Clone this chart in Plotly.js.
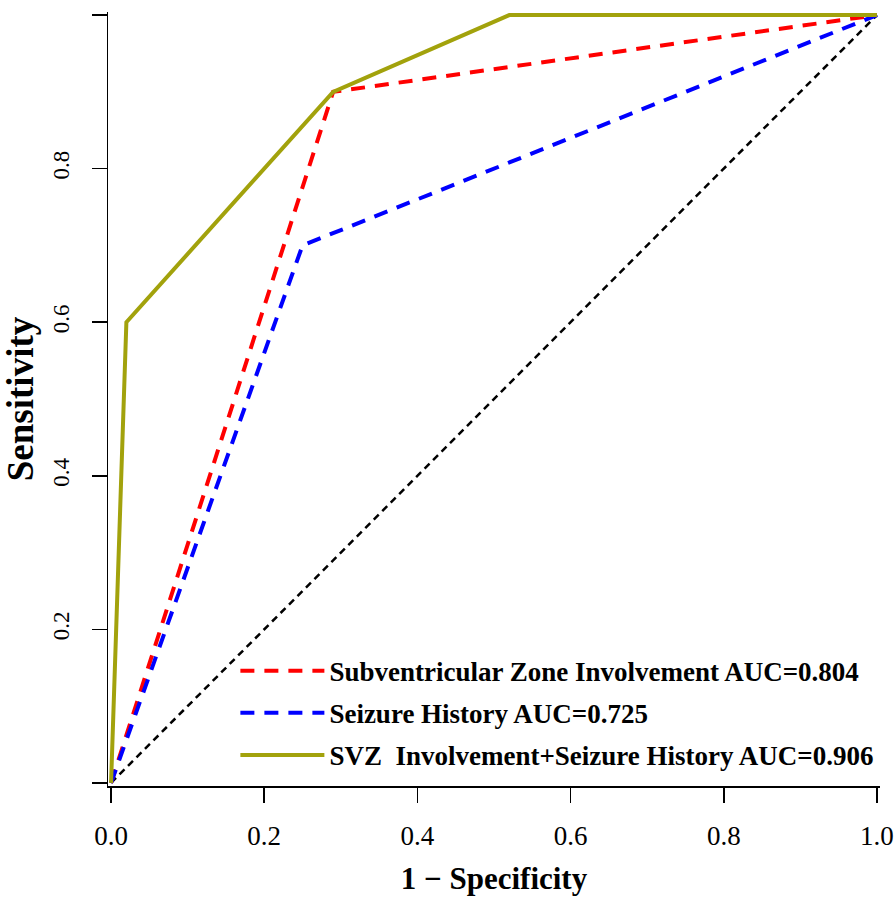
<!DOCTYPE html>
<html>
<head>
<meta charset="utf-8">
<script src="https://cdn.plot.ly/plotly-3.0.1.min.js"></script>
<style>html,body{margin:0;padding:0;background:#fff;}#plot{width:894px;height:898px;}</style>
</head>
<body>
<div id="plot"></div>
<script>
// ROC curve data (1 - specificity, sensitivity)
const svzFpr = [0, 0.29, 1];
const svzTpr = [0, 0.90, 1];
const seizureFpr = [0, 0.25, 1];
const seizureTpr = [0, 0.70, 1];
const combFpr = [0, 0.02, 0.29, 0.52, 1];
const combTpr = [0, 0.60, 0.90, 1.00, 1];
const refLine = [0, 1];

const seriesNames = [
  "Subventricular Zone Involvement AUC=0.804",
  "Seizure History AUC=0.725",
  "SVZ  Involvement+Seizure History AUC=0.906"
];
const tickVals = [0, 0.2, 0.4, 0.6, 0.8, 1.0];
const xTickText = ["0.0", "0.2", "0.4", "0.6", "0.8", "1.0"];
const yTickText = ["", "0.2", "0.4", "0.6", "0.8", "1.0"];

const serif = "Liberation Serif, Times New Roman, serif";

const traces = [
  {x: refLine, y: refLine, mode: "lines", showlegend: false, hoverinfo: "skip",
   line: {color: "#000000", width: 2.5, dash: "7px,5px"}},
  {x: svzFpr, y: svzTpr, mode: "lines", name: seriesNames[0], legendgroup: "a",
   line: {color: "#FF0000", width: 4, dash: "14px,10px"}},
  {x: seizureFpr, y: seizureTpr, mode: "lines", name: seriesNames[1], legendgroup: "b",
   line: {color: "#0000FF", width: 4, dash: "14px,10px"}},
  {x: combFpr, y: combTpr, mode: "lines", name: seriesNames[2], legendgroup: "c",
   line: {color: "#A2A20C", width: 4}}
];

const axisCommon = {
  range: [-0.004, 1.004],
  showgrid: false, zeroline: false,
  showline: true, linecolor: "#000", linewidth: 1.5,
  ticks: "outside", ticklen: 15, tickwidth: 1.5, tickcolor: "#000",
  tickvals: tickVals,
  fixedrange: true
};

const layout = {
  width: 894, height: 898,
  margin: {l: 107.5, r: 13.5, t: 12, b: 112, pad: 0},
  paper_bgcolor: "#fff", plot_bgcolor: "#fff",
  xaxis: Object.assign({}, axisCommon, {
    ticktext: xTickText, ticklabelstandoff: 10,
    tickfont: {family: serif, size: 27, color: "#000"},
    title: {text: "<b>1 \u2212 Specificity</b>", font: {family: serif, size: 31, color: "#000"}, standoff: 17}
  }),
  yaxis: Object.assign({}, axisCommon, {
    ticktext: yTickText, tickangle: -90, ticklabelstandoff: 13,
    tickfont: {family: serif, size: 23, color: "#000"},
    title: {text: "<b>Sensitivity</b>", font: {family: serif, size: 37, color: "#000"}, standoff: 16}
  }),
  showlegend: true,
  legend: {
    x: 0.165, y: 0.18, xanchor: "left", yanchor: "top",
    bgcolor: "rgba(0,0,0,0)", borderwidth: 0,
    font: {family: serif, size: 27, color: "#000", weight: "bold"},
    tracegroupgap: 4, itemwidth: 84, traceorder: "grouped"
  }
};

Plotly.newPlot("plot", traces, layout, {displayModeBar: false, staticPlot: true});
</script>
</body>
</html>
